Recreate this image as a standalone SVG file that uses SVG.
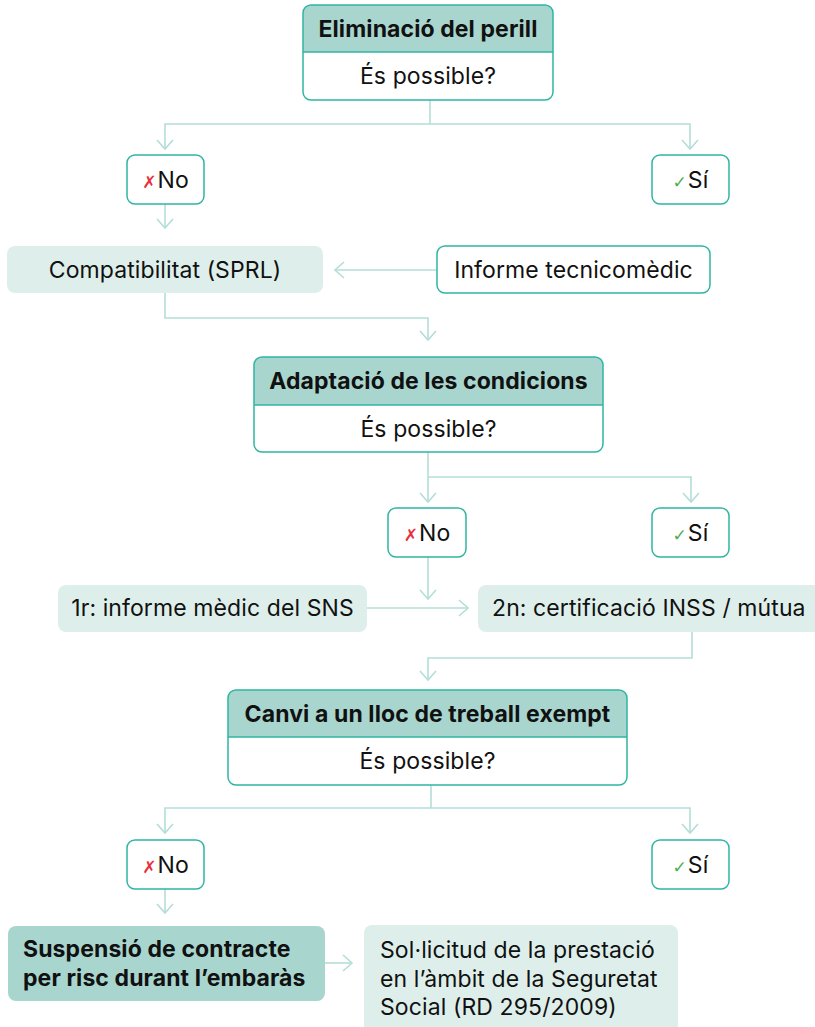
<svg xmlns="http://www.w3.org/2000/svg" width="815" height="1027" viewBox="0 0 815 1027">
<defs>
<style>
.t{font-family:Inter,"Liberation Sans",sans-serif;font-size:23px;letter-spacing:0.1px;fill:#111;}
.b{font-family:Inter,"Liberation Sans",sans-serif;font-size:23px;letter-spacing:0.1px;font-weight:700;fill:#111;}
.hd{fill:#a8d6cf;}
.ol{fill:none;stroke:#2fb5a3;stroke-width:1.5;}
.ob{fill:#fff;stroke:#2fb5a3;stroke-width:1.5;}
.lt{fill:#deefeb;}
.c{fill:none;stroke:#b4ded7;stroke-width:1.6;}
.x{font-family:"DejaVu Sans",sans-serif;font-size:17px;fill:#e8303c;}
.v{font-family:"DejaVu Sans",sans-serif;font-size:17px;fill:#4caf50;}
</style>
<marker id="a" markerUnits="userSpaceOnUse" markerWidth="20" markerHeight="20" refX="10" refY="10" orient="auto" viewBox="0 0 20 20">
<path d="M1,2 L10,10 L1,18" fill="none" stroke="#b4ded7" stroke-width="1.6"/>
</marker>
</defs>
<rect width="815" height="1027" fill="#fff"/>

<g id="connectors">
<path class="c" d="M430,100 V124 H165 V149" marker-end="url(#a)"/>
<path class="c" d="M430,124 H690 V149" marker-end="url(#a)"/>
<path class="c" d="M165,204 V228" marker-end="url(#a)"/>
<path class="c" d="M437,270 H335" marker-end="url(#a)"/>
<path class="c" d="M165,293 V318 H428 V340" marker-end="url(#a)"/>
<path class="c" d="M428,452 V502" marker-end="url(#a)"/>
<path class="c" d="M428,477 H691 V502" marker-end="url(#a)"/>
<path class="c" d="M428,557 V599" marker-end="url(#a)"/>
<path class="c" d="M367,608 H468" marker-end="url(#a)"/>
<path class="c" d="M692,632 V658 H428 V680" marker-end="url(#a)"/>
<path class="c" d="M431,785 V808 H165 V833" marker-end="url(#a)"/>
<path class="c" d="M431,808 H690 V833" marker-end="url(#a)"/>
<path class="c" d="M165,889 V913" marker-end="url(#a)"/>
<path class="c" d="M325,963 H352" marker-end="url(#a)"/>
</g>

<g id="node-eliminacio">
<rect x="303" y="5" width="250" height="95" rx="8" fill="#fff"/>
<path class="hd" d="M303,52 V13 a8,8 0 0 1 8,-8 H545 a8,8 0 0 1 8,8 V52 Z"/>
<rect class="ol" x="303" y="5" width="250" height="95" rx="8"/>
<line x1="303" y1="52" x2="553" y2="52" stroke="#2fb5a3" stroke-width="1.5"/>
<text class="b" x="428" y="37" text-anchor="middle">Eliminació del perill</text>
<text class="t" x="428" y="84" text-anchor="middle">És possible?</text>
</g>

<g id="no-1">
<rect class="ob" x="127" y="155" width="77" height="49" rx="8"/>
<text x="165.5" y="188" text-anchor="middle"><tspan class="x">✗</tspan><tspan class="t" dx="1">No</tspan></text>
</g>
<g id="si-1">
<rect class="ob" x="652" y="155" width="77" height="49" rx="8"/>
<text x="690.5" y="188" text-anchor="middle"><tspan class="v">✓</tspan><tspan class="t" dx="1">Sí</tspan></text>
</g>

<g id="compatibilitat">
<rect class="lt" x="7" y="246" width="316" height="47" rx="8"/>
<text class="t" x="165" y="278" text-anchor="middle">Compatibilitat (SPRL)</text>
</g>
<g id="informe">
<rect class="ob" x="437" y="246" width="273" height="47" rx="8"/>
<text class="t" x="573.5" y="278" text-anchor="middle">Informe tecnicomèdic</text>
</g>

<g id="node-adaptacio">
<rect x="254" y="357" width="349" height="95" rx="8" fill="#fff"/>
<path class="hd" d="M254,405 V365 a8,8 0 0 1 8,-8 H595 a8,8 0 0 1 8,8 V405 Z"/>
<rect class="ol" x="254" y="357" width="349" height="95" rx="8"/>
<line x1="254" y1="405" x2="603" y2="405" stroke="#2fb5a3" stroke-width="1.5"/>
<text class="b" x="428.5" y="389" text-anchor="middle">Adaptació de les condicions</text>
<text class="t" x="428.5" y="437" text-anchor="middle">És possible?</text>
</g>

<g id="no-2">
<rect class="ob" x="388" y="508" width="78" height="49" rx="8"/>
<text x="427" y="541" text-anchor="middle"><tspan class="x">✗</tspan><tspan class="t" dx="1">No</tspan></text>
</g>
<g id="si-2">
<rect class="ob" x="652" y="508" width="77" height="49" rx="8"/>
<text x="690.5" y="541" text-anchor="middle"><tspan class="v">✓</tspan><tspan class="t" dx="1">Sí</tspan></text>
</g>

<g id="informe-sns">
<rect class="lt" x="58" y="585" width="309" height="47" rx="8"/>
<text class="t" x="212.5" y="616" text-anchor="middle">1r: informe mèdic del SNS</text>
</g>
<g id="certificacio">
<rect class="lt" x="478" y="585" width="345" height="47" rx="8"/>
<text class="t" x="492" y="616">2n: certificació INSS / mútua</text>
</g>

<g id="node-canvi">
<rect x="228" y="690" width="399" height="95" rx="8" fill="#fff"/>
<path class="hd" d="M228,737 V698 a8,8 0 0 1 8,-8 H619 a8,8 0 0 1 8,8 V737 Z"/>
<rect class="ol" x="228" y="690" width="399" height="95" rx="8"/>
<line x1="228" y1="737" x2="627" y2="737" stroke="#2fb5a3" stroke-width="1.5"/>
<text class="b" x="427.5" y="722" text-anchor="middle">Canvi a un lloc de treball exempt</text>
<text class="t" x="427.5" y="769" text-anchor="middle">És possible?</text>
</g>

<g id="no-3">
<rect class="ob" x="127" y="840" width="77" height="49" rx="8"/>
<text x="165.5" y="873" text-anchor="middle"><tspan class="x">✗</tspan><tspan class="t" dx="1">No</tspan></text>
</g>
<g id="si-3">
<rect class="ob" x="652" y="840" width="77" height="49" rx="8"/>
<text x="690.5" y="873" text-anchor="middle"><tspan class="v">✓</tspan><tspan class="t" dx="1">Sí</tspan></text>
</g>

<g id="suspensio">
<rect class="hd" x="8" y="926" width="317" height="75" rx="8"/>
<text class="b" x="23" y="957">Suspensió de contracte</text>
<text class="b" x="23" y="986">per risc durant l’embaràs</text>
</g>
<g id="sollicitud">
<rect class="lt" x="364" y="925" width="314" height="110" rx="8"/>
<text class="t" x="380" y="958">Sol·licitud de la prestació</text>
<text class="t" x="380" y="987">en l’àmbit de la Seguretat</text>
<text class="t" x="380" y="1015">Social (RD 295/2009)</text>
</g>
</svg>
